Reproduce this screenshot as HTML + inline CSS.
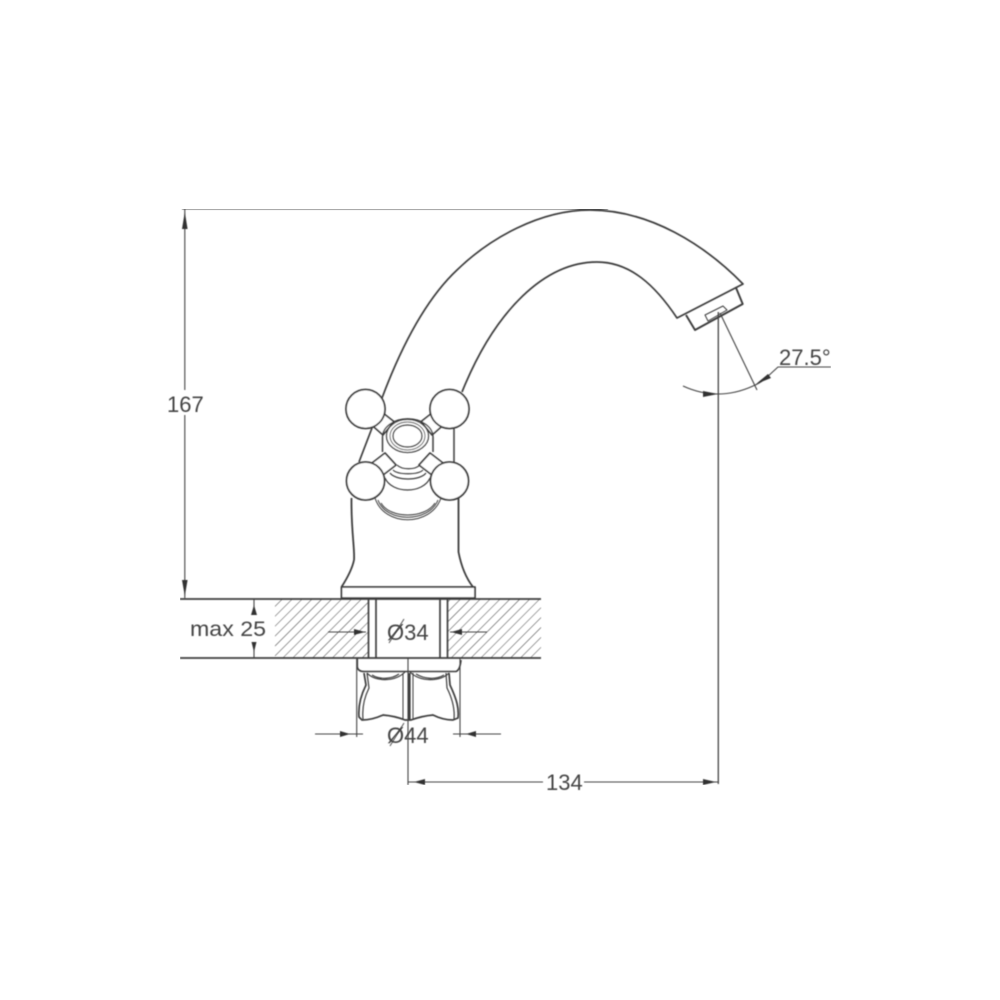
<!DOCTYPE html>
<html>
<head>
<meta charset="utf-8">
<style>
html,body{margin:0;padding:0;background:#fff;width:1000px;height:1000px;overflow:hidden}
svg{display:block}
text{font-family:"Liberation Sans",sans-serif;fill:#444}
</style>
</head>
<body>
<svg width="1000" height="1000" viewBox="0 0 1000 1000">
<defs>
<pattern id="h" width="7" height="10" patternUnits="userSpaceOnUse" patternTransform="rotate(45)">
<line x1="0" y1="0" x2="0" y2="10" stroke="#444" stroke-width="1"/>
</pattern>
<filter id="b" x="0" y="0" width="100%" height="100%"><feGaussianBlur stdDeviation="0.4"/></filter>
</defs>
<g filter="url(#b)" fill="none" stroke="#3c3c3c" stroke-width="1.5" stroke-linejoin="round">
<!-- hatch -->
<rect x="275" y="599" width="93" height="59" fill="url(#h)" stroke="none"/>
<rect x="448" y="599" width="93" height="59" fill="url(#h)" stroke="none"/>
<!-- spout -->
<path d="M359 462 L372 428 M382 398 C400 350 425 300 457 270 C490 238 540 210 590 210 C650 210 705 245 743 284 L677 318 C655 285 630 262 597 262 C545 262 495 310 462 392" stroke-width="1.7"/>
<path d="M454 428 V462"/>
<path d="M735.7 287 L742.7 304 L695 330 L686 315" stroke-width="1.9"/>
<path d="M705 315 L723 306 L727 310 L708 321 Z" stroke-width="1"/>
<!-- body -->
<path d="M351.5 498 C351 530 355 550 354 560 C352 570 346 580 341.5 587 M458.5 498 V552 C461 565 466 578 473 587" stroke-width="1.8"/>
<rect x="341.5" y="587" width="133.5" height="11" stroke-width="1.8" fill="#fff"/>
<!-- bell -->
<path d="M375 498 C384 527 431 527 441 498 M378 500 C386 523 429 523 438 500 M381 503 C390 519 425 519 435 503" stroke-width="1"/>
<path d="M385 478 C392 494 423 494 430 478 M390 473 C396 481 420 481 426 473 M393 470 C398 475 418 475 423 470 M397 465 C402 470 415 470 420 465" stroke-width="1.2"/>
<path d="M382.5 437 V452 M433 437 V452"/>
<!-- arms -->
<path d="M381.7 412 L394 421.7 L383 435 L371.7 425 Z M433.3 412 L421 421.7 L432 435 L443.3 425 Z M385 453 L396 465 L383 475 L372 463 Z M430 453 L419 465 L432 475 L443 463 Z" fill="#fff" stroke-width="1.7"/>
<!-- nut -->
<ellipse cx="407.5" cy="436" rx="21" ry="16.5" fill="#fff" stroke-width="1.3"/>
<path d="M382.5 437 A25 18 0 0 1 433 437" stroke-width="1.4"/>
<ellipse cx="407.5" cy="436" rx="17.5" ry="14" stroke-width="0.9"/>
<ellipse cx="407.5" cy="436" rx="14.5" ry="11" stroke-width="1.4"/>
<!-- balls -->
<circle cx="365.5" cy="409" r="19.5" fill="#fff" stroke-width="1.8"/>
<circle cx="449.5" cy="409" r="19.5" fill="#fff" stroke-width="1.8"/>
<circle cx="365.5" cy="481" r="19" fill="#fff" stroke-width="1.8"/>
<circle cx="449.5" cy="481" r="19" fill="#fff" stroke-width="1.8"/>
<!-- wall -->
<path d="M180 599 H541 M180 658 H541" stroke-width="1.7"/>
<path d="M368.5 599 V658 M376 599 V658 M440 599 V658 M447.5 599 V658" stroke-width="1.7"/>
<!-- nut under -->
<path d="M357.3 658 V667 Q358 671.5 364 671.5 H456 Q460 670 461 660" stroke-width="1.6"/>
<path d="M364 673 L366 685 C361 695 358 705 359 717 L362 720 Q372 720 383 715 Q395 716 405 720 H411 Q422 716 433 715 Q443 720 453 720 L458 718 C459 708 457 700 450 685 L449 673" stroke-width="1.7"/>
<path d="M367 673 L369 688 C364 698 362 708 363 719 M446 673 L447 688 C452 698 455 708 454 719" stroke-width="1.2"/>
<path d="M367 673 C375 682 395 682 405 672 M410 672 C420 682 440 682 449 673 M372 675 C380 680 392 679 399 674 M416 674 C424 679 436 680 444 675" stroke-width="1.2"/>
<path d="M403 673 V720 M413 673 V720" stroke-width="1"/>
<path d="M409.5 673 V720" stroke-width="2.2"/>
<!-- dimension lines -->
<g stroke-width="1.1" stroke="#444">
<path d="M182 209 H608"/>
<path d="M184.8 209 V390 M184.8 415 V598"/>
<path d="M254 599 V615 M254 642 V658"/>
<path d="M328 632 H366 M450 632 H487"/>
<path d="M356.7 658 V737 M460 658 V737"/>
<path d="M315 734 H363 M453 734 H501"/>
<path d="M408 658 V785"/>
<path d="M408 782 H543 M584 782 H718"/>
<path d="M718.3 312 V784" stroke-width="1.3"/>
<path d="M720 313 L757 390"/>
<path d="M683 386 Q718 402 753 386 Q762 382 766 378 L778 367 H831"/>
</g>
<!-- arrowheads -->
<g fill="#333" stroke="none">
<path d="M184.8 212 L182 229 H187.6 Z M184.8 596 L182 580 H187.6 Z"/>
<path d="M254 605 L251 615 H257 Z M254 652 L251.5 642 H256.5 Z"/>
<path d="M365 632 L354 629 V635 Z M451 632 L462 629 V635 Z"/>
<path d="M350 734 L340 731 V737 Z M466 734 L476 731 V737 Z"/>
<path d="M414 782 L425 779 V785 Z M716 782 L703 779 V785 Z"/>
<path d="M718 394 L703 391 V397 Z M756 384 L768 374 L771 378 Z"/>
</g>
<path d="M389 643 L404 619 M390 746 L404 723" stroke-width="1" stroke="#555"/>
</g>
<g filter="url(#b)">
<text x="167" y="412" font-size="22">167</text>
<text x="190" y="636" font-size="21" textLength="76" lengthAdjust="spacingAndGlyphs">max 25</text>
<text x="387" y="640" font-size="22">Ø34</text>
<text x="387" y="743" font-size="22">Ø44</text>
<text x="546" y="790" font-size="22">134</text>
<text x="779" y="365" font-size="22">27.5°</text>
</g>
</svg>
</body>
</html>
